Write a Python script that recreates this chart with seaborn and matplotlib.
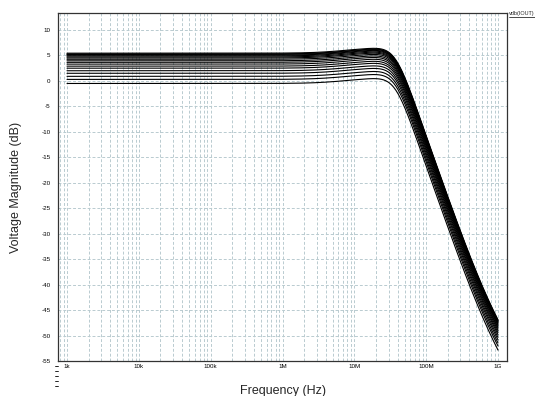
import numpy as np
import pandas as pd
import matplotlib
matplotlib.use("Agg")
import matplotlib.pyplot as plt
import matplotlib.transforms as mtransforms
from matplotlib.ticker import FixedLocator, FixedFormatter, NullFormatter
import seaborn as sns

# AC sweep of the amplifier output for a family of gain settings
dc_gain_db = [-0.5, 0.3, 0.9, 1.5, 2.0, 2.5, 2.9, 3.3, 3.65, 3.95,
              4.25, 4.5, 4.7, 4.9, 5.05, 5.2, 5.3, 5.45]
pole_freq_hz = 37e6        # natural frequency of the output pole pair
pole_q = 0.8               # quality factor of the pole pair
lead_zero_hz = 6.0e6       # mid-band lead network
lead_pole_hz = 6.6e6
hf_zero_hz = 800e6         # high-frequency zero

sweep_start_hz = 1e3
sweep_stop_hz = 1e9
sweep_points = 601

x_tick_values = [1e3, 1e4, 1e5, 1e6, 1e7, 1e8, 1e9]
x_tick_labels = ["1k", "10k", "100k", "1M", "10M", "100M", "1G"]
y_tick_values = [10, 5, 0, -5, -10, -15, -20, -25, -30, -35, -40, -45, -50, -55]
y_tick_labels = ["10", "5", "0", "-5", "-10", "-15", "-20", "-25", "-30",
                 "-35", "-40", "-45", "-50", "-55"]

trace_name = "vdb(IOUT)"

# ---- evaluate the response of every gain setting ----
freq = np.logspace(np.log10(sweep_start_hz), np.log10(sweep_stop_hz), sweep_points)
s = 1j * 2 * np.pi * freq
w0 = 2 * np.pi * pole_freq_hz
shape = ((1 + s / (2 * np.pi * lead_zero_hz)) / (1 + s / (2 * np.pi * lead_pole_hz))
         * (1 + s / (2 * np.pi * hf_zero_hz))
         / (1 + s / (pole_q * w0) + (s / w0) ** 2))
shape_db = 20 * np.log10(np.abs(shape))

frames = []
for i, g in enumerate(dc_gain_db):
    frames.append(pd.DataFrame({"freq": freq, "mag": g + shape_db, "run": i}))
df = pd.concat(frames, ignore_index=True)

# ---- figure ----
sns.set_style("white")
plt.rcParams["font.family"] = ["Liberation Sans", "DejaVu Sans"]
plt.rcParams["axes.unicode_minus"] = False

W, H = 535, 396
fig = plt.figure(figsize=(W / 100, H / 100), dpi=100)
ax_left, ax_right, ax_top, ax_bottom = 58, 507, 13, 361
ax = fig.add_axes([ax_left / W, 1 - ax_bottom / H,
                   (ax_right - ax_left) / W, (ax_bottom - ax_top) / H])

grid_color = "#b9cbd0"
ax.set_xscale("log")
ax.set_xlim(10 ** 2.8747, 10 ** 9.1253)
ax.set_ylim(-55, 13.34)

# dashed grid: every decade subdivision on x, every 5 dB on y
minor_x = [m * 10 ** e for e in range(2, 10) for m in range(1, 10)]
for xv in minor_x:
    if ax.get_xlim()[0] < xv < ax.get_xlim()[1]:
        ax.axvline(xv, color=grid_color, lw=0.7, ls=(0, (3, 2)), zorder=0)
for yv in y_tick_values:
    ax.axhline(yv, color=grid_color, lw=0.7, ls=(0, (3, 2)), zorder=0)

sns.lineplot(data=df, x="freq", y="mag", hue="run", units="run",
             estimator=None, sort=False,
             palette=["black"] * len(dc_gain_db), legend=False,
             linewidth=0.8, ax=ax)

ax.xaxis.set_major_locator(FixedLocator(x_tick_values))
ax.xaxis.set_major_formatter(FixedFormatter(x_tick_labels))
ax.xaxis.set_minor_locator(FixedLocator(minor_x))
ax.xaxis.set_minor_formatter(NullFormatter())
ax.yaxis.set_major_locator(FixedLocator(y_tick_values))
ax.yaxis.set_major_formatter(FixedFormatter(y_tick_labels))
ax.yaxis.set_minor_locator(FixedLocator(list(range(-55, 14))))

ax.tick_params(axis="x", which="major", direction="in", length=3.5, width=0.6,
               labelsize=4.5, pad=2, colors="black")
ax.tick_params(axis="x", which="minor", direction="in", length=2.5, width=0.6)
ax.tick_params(axis="y", which="major", direction="out", length=4, width=0.6,
               labelsize=4.5, pad=1.5, colors="black")
ax.tick_params(axis="y", which="minor", direction="out", length=2.5, width=0.6)

for sp in ax.spines.values():
    sp.set_color("#333333")
    sp.set_linewidth(0.9)

# minor tick marks continuing below the frame on the left
trans = mtransforms.blended_transform_factory(ax.transAxes, ax.transData)
for yv in [-56, -57, -58, -59, -60]:
    ax.plot([-0.007, 0.0], [yv, yv], color="black", lw=0.6,
            transform=trans, clip_on=False)

ax.set_xlabel("Frequency (Hz)", fontsize=9, labelpad=12)
ax.set_ylabel("Voltage Magnitude (dB)", fontsize=9, labelpad=14)

# trace name at the top right, underlined
fig.text(508.5 / W, 1 - 15.5 / H, trace_name, fontsize=4.0, ha="left", va="baseline")
fig.add_artist(plt.Line2D([508.5 / W, 1.0], [1 - 17 / H, 1 - 17 / H],
                          color="black", lw=0.5, transform=fig.transFigure))

fig.savefig("out.png", dpi=100)
